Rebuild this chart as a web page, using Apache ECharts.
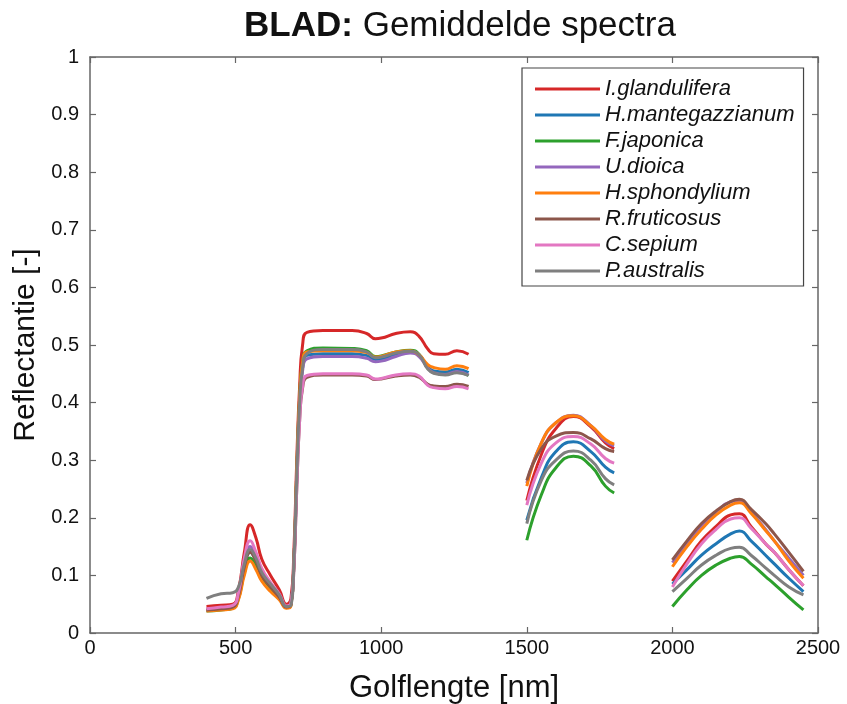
<!DOCTYPE html>
<html>
<head>
<meta charset="utf-8">
<script src="https://cdn.jsdelivr.net/npm/echarts@6/dist/echarts.min.js"></script>
<style>
html,body{margin:0;padding:0;background:#fff;}
#chart{width:847px;height:704px;}
</style>
</head>
<body>
<div id="chart"></div>
<script>
// Wavelengths (nm); null marks gaps between measured bands
const wavelengths = [400,450,490,510,530,550,570,590,620,650,675,690,700,710,720,730,745,800,900,950,980,1000,1050,1100,1130,1160,1180,1220,1260,1300,
  null,
  1500,1550,1600,1660,1720,1770,1800,
  null,
  2000,2050,2100,2150,2200,2230,2270,2320,2350,2400,2450];

const seriesNames = ["I.glandulifera","H.mantegazzianum","F.japonica","U.dioica","H.sphondylium","R.fruticosus","C.sepium","P.australis"];
const seriesColors = ["#d62728","#1f77b4","#2ca02c","#9467bd","#ff7f0e","#8c564b","#e377c2","#7f7f7f"];

const glandulifera = [0.046,0.048,0.05,0.075,0.14,0.188,0.165,0.128,0.1,0.075,0.05,0.06,0.14,0.3,0.43,0.5,0.522,0.525,0.525,0.52,0.511,0.512,0.52,0.523,0.515,0.493,0.485,0.484,0.49,0.484,
  null, 0.23,0.31,0.355,0.376,0.358,0.33,0.32,
  null, 0.09,0.125,0.16,0.185,0.205,0.207,0.185,0.155,0.14,0.11,0.082];
const mantegazzianum = [0.04,0.042,0.045,0.065,0.115,0.14,0.125,0.1,0.08,0.062,0.045,0.05,0.12,0.27,0.4,0.46,0.482,0.485,0.485,0.482,0.475,0.476,0.483,0.488,0.482,0.462,0.455,0.453,0.458,0.452,
  null, 0.196,0.27,0.315,0.332,0.315,0.288,0.278,
  null, 0.085,0.11,0.135,0.155,0.172,0.177,0.16,0.135,0.12,0.095,0.072];
const japonica = [0.038,0.04,0.043,0.06,0.105,0.13,0.115,0.092,0.075,0.06,0.044,0.048,0.12,0.28,0.41,0.47,0.49,0.495,0.494,0.49,0.48,0.481,0.488,0.491,0.484,0.46,0.452,0.449,0.453,0.447,
  null, 0.161,0.24,0.287,0.307,0.29,0.255,0.243,
  null, 0.046,0.075,0.1,0.118,0.13,0.133,0.12,0.098,0.085,0.062,0.04];
const dioica = [0.04,0.042,0.045,0.068,0.125,0.15,0.135,0.108,0.085,0.065,0.046,0.05,0.12,0.27,0.4,0.455,0.476,0.48,0.48,0.477,0.471,0.472,0.48,0.486,0.48,0.46,0.452,0.449,0.454,0.448,
  null, 0.26,0.33,0.365,0.378,0.36,0.333,0.325,
  null, 0.122,0.155,0.185,0.21,0.228,0.23,0.21,0.18,0.16,0.13,0.1];
const sphondylium = [0.038,0.04,0.042,0.058,0.1,0.125,0.11,0.09,0.072,0.058,0.043,0.047,0.12,0.28,0.41,0.47,0.488,0.49,0.49,0.487,0.479,0.48,0.488,0.49,0.483,0.466,0.461,0.458,0.464,0.459,
  null, 0.255,0.33,0.365,0.377,0.36,0.336,0.328,
  null, 0.115,0.15,0.18,0.205,0.222,0.226,0.208,0.178,0.16,0.125,0.095];
const fruticosus = [0.04,0.042,0.045,0.065,0.115,0.14,0.125,0.1,0.08,0.062,0.045,0.05,0.11,0.25,0.37,0.425,0.444,0.448,0.448,0.446,0.44,0.441,0.446,0.448,0.444,0.432,0.429,0.428,0.432,0.428,
  null, 0.265,0.32,0.342,0.348,0.337,0.32,0.315,
  null, 0.127,0.16,0.19,0.212,0.228,0.232,0.215,0.19,0.172,0.14,0.107];
const sepium = [0.042,0.045,0.048,0.07,0.13,0.16,0.14,0.112,0.088,0.068,0.047,0.052,0.11,0.25,0.37,0.428,0.447,0.45,0.45,0.448,0.441,0.442,0.448,0.45,0.446,0.43,0.426,0.424,0.428,0.424,
  null, 0.222,0.295,0.33,0.341,0.328,0.303,0.295,
  null, 0.08,0.12,0.155,0.18,0.198,0.2,0.182,0.155,0.14,0.11,0.082];
const australis = [0.06,0.068,0.07,0.08,0.12,0.145,0.13,0.105,0.085,0.066,0.046,0.048,0.12,0.27,0.4,0.46,0.485,0.492,0.492,0.488,0.478,0.479,0.486,0.489,0.483,0.458,0.451,0.448,0.452,0.447,
  null, 0.19,0.265,0.3,0.316,0.3,0.268,0.257,
  null, 0.072,0.095,0.118,0.135,0.147,0.149,0.135,0.113,0.1,0.08,0.066];

const xTicks = [0,500,1000,1500,2000,2500];
const yTicks = [0,0.1,0.2,0.3,0.4,0.5,0.6,0.7,0.8,0.9,1];

const allValues = [glandulifera, mantegazzianum, japonica, dioica, sphondylium, fruticosus, sepium, australis];

const FONT = '"Liberation Sans", Arial, sans-serif';
const axisColor = '#666';

function pairs(vals){
  return wavelengths.map((w,i)=> (w===null||vals[i]===null) ? [null,null] : [w, vals[i]]);
}

const series = seriesNames.map((name,i)=>({
  name: name,
  type: 'line',
  xAxisIndex: 0,
  yAxisIndex: 0,
  data: pairs(allValues[i]),
  showSymbol: false,
  symbol: 'none',
  smooth: 0.5,
  connectNulls: false,
  lineStyle: {width: 3, color: seriesColors[i]},
  itemStyle: {color: seriesColors[i]},
  z: 2,
  animation: false
}));

const baseAxisLine = {show: true, onZero: false, lineStyle: {color: axisColor, width: 1.5}};
const tick = {show: true, inside: true, length: 6, lineStyle: {color: axisColor, width: 1.2}};
const chart = echarts.init(document.getElementById('chart'), null, {renderer: 'canvas'});
chart.setOption({
  animation: false,
  backgroundColor: '#fff',
  title: {
    text: '{b|BLAD:}{n| Gemiddelde spectra}',
    left: 455,
    textAlign: 'center',
    top: 4,
    textStyle: {
      rich: {
        b: {fontFamily: FONT, fontSize: 35, fontWeight: 'bold', color: '#111'},
        n: {fontFamily: FONT, fontSize: 35, fontWeight: 'normal', color: '#111'}
      }
    }
  },
  grid: {left: 90, right: 29, top: 57, bottom: 71, containLabel: false, outerBoundsMode: 'none'},
  legend: {
    orient: 'vertical',
    left: 522,
    top: 68,
    padding: [10, 9, 4, 13],
    itemWidth: 65,
    itemHeight: 3,
    itemGap: 4,
    icon: 'rect',
    backgroundColor: '#fff',
    borderColor: '#444',
    borderWidth: 1.2,
    borderRadius: 0,
    textStyle: {fontFamily: FONT, fontSize: 22, fontStyle: 'italic', color: '#111', lineHeight: 20},
    data: seriesNames
  },
  xAxis: [{
    type: 'value', min: 0, max: 2500, interval: 500,
    name: 'Golflengte [nm]', nameLocation: 'middle', nameGap: 40,
    nameTextStyle: {fontFamily: FONT, fontSize: 31, color: '#111'},
    axisLine: baseAxisLine,
    axisTick: tick,
    axisLabel: {fontFamily: FONT, fontSize: 20, color: '#111', margin: 5,
      formatter: v => String(v)},
    splitLine: {show: false}
  },{
    type: 'value', position: 'top', min: 0, max: 2500, interval: 500,
    axisLine: baseAxisLine,
    axisTick: tick,
    axisLabel: {show: false}, splitLine: {show: false}
  }],
  yAxis: [{
    type: 'value', min: 0, max: 1, interval: 0.1,
    name: 'Reflectantie [-]', nameLocation: 'middle', nameGap: 38,
    nameTextStyle: {fontFamily: FONT, fontSize: 30, color: '#111'},
    axisLine: baseAxisLine,
    axisTick: tick,
    axisLabel: {fontFamily: FONT, fontSize: 20, color: '#111', margin: 11,
      formatter: v => String(Math.round(v*10)/10)},
    splitLine: {show: false}
  },{
    type: 'value', position: 'right', min: 0, max: 1, interval: 0.1,
    axisLine: baseAxisLine,
    axisTick: tick,
    axisLabel: {show: false}, splitLine: {show: false}
  }],
  series: series
});
</script>
</body>
</html>
